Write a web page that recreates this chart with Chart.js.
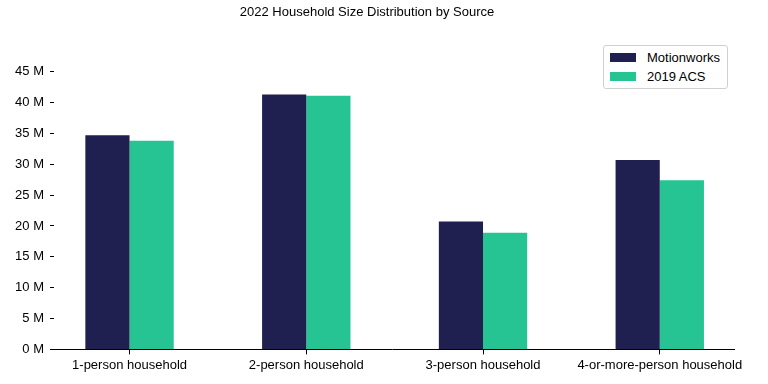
<!DOCTYPE html>
<html>
<head>
<meta charset="utf-8">
<script src="https://cdn.jsdelivr.net/npm/chart.js@4/dist/chart.umd.min.js"></script>
<style>
  html, body { margin: 0; padding: 0; background: #fff; }
  #wrap { position: relative; width: 768px; height: 384px; }
  #legend {
    position: absolute; left: 603px; top: 45px; width: 123px; height: 42px;
    border: 1px solid #d0d0d0; border-radius: 3px; background: #fff;
    font-family: "Liberation Sans", Arial, sans-serif; font-size: 13px; color: #000;
  }
  #legend .row { position: absolute; left: 6px; height: 19px; display: flex; align-items: center; }
  #legend .sw { width: 26px; height: 9px; margin-right: 11px; }
</style>
</head>
<body>
<div id="wrap">
  <canvas id="c" width="768" height="384"></canvas>
  <div id="legend"></div>
</div>
<script>
const categories = ["1-person household", "2-person household", "3-person household", "4-or-more-person household"];
const seriesNames = ["Motionworks", "2019 ACS"];
const motionworks = [34.7e6, 41.3e6, 20.7e6, 30.7e6];
const acs2019 = [33.8e6, 41.1e6, 18.9e6, 27.4e6];
const yTicks = [0, 5e6, 10e6, 15e6, 20e6, 25e6, 30e6, 35e6, 40e6, 45e6];
const colors = ["#1f1f50", "#25c492"];

const FONT = "'Liberation Sans', Arial, sans-serif";
const toPoints = arr => arr.map((v, i) => ({ x: i, y: v }));

const chart = new Chart(document.getElementById('c'), {
  type: 'bar',
  data: {
    datasets: [
      { label: seriesNames[0], data: toPoints(motionworks), backgroundColor: colors[0], borderWidth: 0,
        categoryPercentage: 0.5, barPercentage: 1.0 },
      { label: seriesNames[1], data: toPoints(acs2019), backgroundColor: colors[1], borderWidth: 0,
        categoryPercentage: 0.5, barPercentage: 1.0 }
    ]
  },
  options: {
    responsive: false,
    animation: false,
    layout: { padding: { left: 0, right: 34, top: 0, bottom: 8 } },
    plugins: {
      legend: { display: false },
      tooltip: { enabled: false },
      title: {
        display: true,
        text: '2022 Household Size Distribution by Source',
        color: '#000',
        font: { family: FONT, size: 13, weight: 'normal' },
        padding: { top: 5, bottom: 51 }
      }
    },
    scales: {
      x: {
        type: 'linear',
        min: -0.45,
        max: 3.42,
        offset: false,
        afterBuildTicks: s => { s.ticks = categories.map((c, i) => ({ value: i })); },
        ticks: {
          callback: v => categories[v],
          color: '#000',
          font: { family: FONT, size: 13 },
          padding: 3,
          maxRotation: 0,
          autoSkip: false
        },
        grid: { display: true, offset: false, drawOnChartArea: false, drawTicks: true, tickLength: 5, color: '#000' },
        border: { display: true, color: '#000', width: 1 }
      },
      y: {
        min: 0,
        max: 45e6,
        afterBuildTicks: s => { s.ticks = yTicks.map(v => ({ value: v })); },
        afterFit: s => { s.width = 50; },
        ticks: {
          callback: v => (v / 1e6) + ' M',
          color: '#000',
          font: { family: FONT, size: 13 },
          padding: 10
        },
        grid: { display: true, drawOnChartArea: false, drawTicks: true, tickLength: -4, color: '#000' },
        border: { display: false }
      }
    }
  }
});

const legend = document.getElementById('legend');
chart.data.datasets.forEach((ds, i) => {
  const row = document.createElement('div');
  row.className = 'row';
  row.style.top = (2 + i * 19) + 'px';
  const sw = document.createElement('span');
  sw.className = 'sw';
  sw.style.background = ds.backgroundColor;
  const t = document.createElement('span');
  t.textContent = ds.label;
  row.appendChild(sw); row.appendChild(t);
  legend.appendChild(row);
});
</script>
</body>
</html>
